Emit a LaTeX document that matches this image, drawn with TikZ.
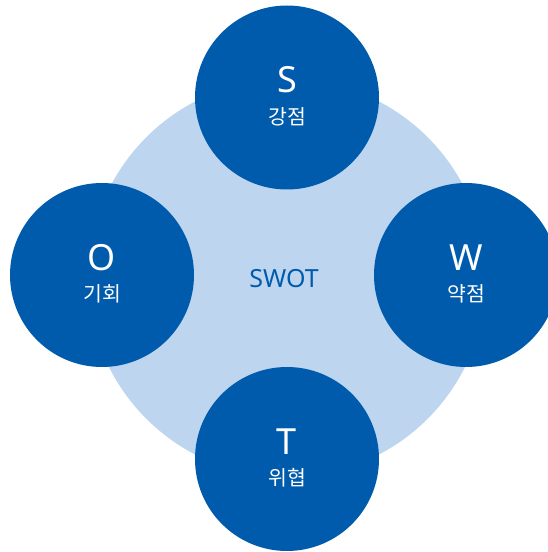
\documentclass[tikz,border=0pt]{standalone}
\usepackage{fontspec}
\setmainfont{Noto Sans}
\newfontfamily\krfont{Noto Sans CJK KR}
\definecolor{swotdark}{HTML}{005BAC}
\definecolor{swotlight}{HTML}{BDD5EF}
\tikzset{
	part/.style={circle, fill=swotdark, minimum size=184pt, inner sep=0pt},
	letter/.style={white, font=\fontsize{36}{36}\selectfont},
	word/.style={white, font=\krfont\fontsize{20.5}{20.5}\selectfont}
}
\begin{document}
\begin{tikzpicture}[x=1pt, y=1pt]
	\useasboundingbox (0,0) rectangle (548,552);
	
	% background circle
	\node (swot) at (287,274) [circle, fill=swotlight, minimum size=398pt, inner sep=0pt] {};
	\node (title) at (284,273) [swotdark, font=\fontsize{25}{25}\selectfont] {SWOT};
	
	% four parts
	\node (s) at (287,454.5) [part] {};
	\node (w) at (466,277) [part] {};
	\node (o) at (102,277) [part] {};
	\node (t) at (287,93) [part] {};
	
	\foreach \n/\l/\k in {s/S/강점, w/W/약점, o/O/기회, t/T/위협} {
		\node (\n-l) at ([yshift=17.5pt]\n.center) [letter] {\l};
		\node (\n-k) at ([yshift=-19pt]\n.center) [word] {\k};
	}
\end{tikzpicture}
\end{document}
